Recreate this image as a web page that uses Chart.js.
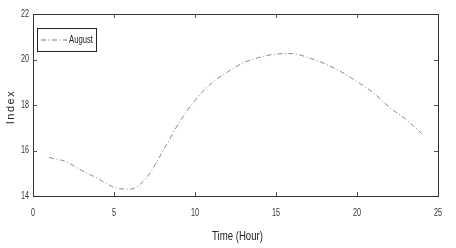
<!DOCTYPE html>
<html>
<head>
<meta charset="utf-8">
<script src="https://cdn.jsdelivr.net/npm/chart.js@4/dist/chart.umd.min.js"></script>
<style>
  html, body { margin: 0; padding: 0; background: #fff; }
  #wrap { width: 456px; height: 248px; }
</style>
</head>
<body>
<div id="wrap"><canvas id="c" width="456" height="248"></canvas></div>
<script>
const hours = [1,2,3,4,5,6,7,8,9,10,11,12,13,14,15,16,17,18,19,20,21,22,23,24];
const august = [15.69,15.52,15.13,14.77,14.38,14.3,14.8,15.95,17.2,18.2,18.95,19.45,19.86,20.1,20.24,20.26,20.08,19.82,19.47,19.03,18.54,17.9,17.38,16.74];
const xTickValues = [0,5,10,15,20,25];
const yTickValues = [14,16,18,20,22];
const seriesName = 'August';
const xTitle = 'Time (Hour)';
const yTitle = 'Index';

const FONT = "'Liberation Sans', Arial, sans-serif";
const DASH = [5,2.5,1,2.5];

function narrowText(ctx, text, x, y, sx, align) {
  ctx.save();
  ctx.translate(x, y);
  ctx.scale(sx, 1);
  ctx.textAlign = align;
  ctx.fillText(text, 0, 0);
  ctx.restore();
}

const framePlugin = {
  id: 'frame',
  afterDraw(chart) {
    const ctx = chart.ctx;
    const a = chart.chartArea;
    const xs = chart.scales.x, ys = chart.scales.y;
    ctx.save();
    ctx.strokeStyle = '#333';
    ctx.lineWidth = 1;
    ctx.strokeRect(Math.round(a.left)+0.5, Math.round(a.top)+0.5, Math.round(a.right-a.left), Math.round(a.bottom-a.top));
    ctx.strokeStyle = '#555';
    const tl = 4;
    xs.ticks.forEach(t => {
      const v = t.value;
      if (v === xs.min || v === xs.max) return;
      const px = Math.round(xs.getPixelForValue(v)) + 0.5;
      ctx.beginPath(); ctx.moveTo(px, a.bottom); ctx.lineTo(px, a.bottom - tl); ctx.stroke();
      ctx.beginPath(); ctx.moveTo(px, a.top); ctx.lineTo(px, a.top + tl); ctx.stroke();
    });
    ys.ticks.forEach(t => {
      const v = t.value;
      if (v === ys.min || v === ys.max) return;
      const py = Math.round(ys.getPixelForValue(v)) + 0.5;
      ctx.beginPath(); ctx.moveTo(a.left, py); ctx.lineTo(a.left + tl, py); ctx.stroke();
      ctx.beginPath(); ctx.moveTo(a.right, py); ctx.lineTo(a.right - tl, py); ctx.stroke();
    });
    // tick labels (narrow font), from the library's scales
    ctx.fillStyle = '#333';
    ctx.font = "10px " + FONT;
    ctx.textBaseline = 'middle';
    xs.ticks.forEach(t => {
      narrowText(ctx, String(t.value), xs.getPixelForValue(t.value), 213, 0.72, 'center');
    });
    ys.ticks.forEach(t => {
      narrowText(ctx, String(t.value), 29, ys.getPixelForValue(t.value), 0.72, 'right');
    });
    // axis titles
    ctx.fillStyle = '#222';
    ctx.font = "12px " + FONT;
    narrowText(ctx, xTitle, (a.left + a.right) / 2 + 2, 237, 0.8, 'center');
    ctx.save();
    ctx.translate(11, (a.top + a.bottom) / 2 + 2);
    ctx.rotate(-Math.PI / 2);
    ctx.font = "11px " + FONT;
    ctx.textAlign = 'center';
    if ('letterSpacing' in ctx) ctx.letterSpacing = '1.5px';
    ctx.fillText(yTitle, 0, 0);
    ctx.restore();
    // legend
    const lx = 37, ly = 28, lw = 59, lh = 23;
    ctx.strokeStyle = '#222';
    ctx.lineWidth = 1;
    ctx.strokeRect(lx + 0.5, ly + 0.5, lw, lh);
    ctx.strokeStyle = '#777';
    ctx.setLineDash(DASH);
    ctx.beginPath(); ctx.moveTo(lx + 4, ly + 12); ctx.lineTo(lx + 30, ly + 12); ctx.stroke();
    ctx.setLineDash([]);
    ctx.fillStyle = '#222';
    ctx.font = "11px " + FONT;
    narrowText(ctx, seriesName, lx + 32, ly + 12, 0.7, 'left');
    ctx.restore();
  }
};

new Chart(document.getElementById('c'), {
  type: 'line',
  data: {
    datasets: [{
      label: seriesName,
      data: hours.map((h, i) => ({x: h, y: august[i]})),
      borderColor: '#888',
      borderWidth: 1,
      borderDash: DASH,
      pointRadius: 0,
      cubicInterpolationMode: 'monotone',
      fill: false
    }]
  },
  options: {
    responsive: false,
    animation: false,
    layout: { padding: { top: 14, right: 18, left: 0, bottom: 0 } },
    plugins: { legend: { display: false }, tooltip: { enabled: false } },
    scales: {
      x: {
        type: 'linear', min: 0, max: 25,
        afterBuildTicks(s) { s.ticks = xTickValues.map(v => ({value: v})); },
        afterFit(s) { s.height = 52; },
        grid: { drawOnChartArea: false, drawTicks: false },
        border: { display: true, color: '#333' },
        ticks: { display: false }
      },
      y: {
        type: 'linear', min: 14, max: 22,
        afterBuildTicks(s) { s.ticks = yTickValues.map(v => ({value: v})); },
        afterFit(s) { s.width = 33; },
        grid: { drawOnChartArea: false, drawTicks: false },
        border: { display: true, color: '#333' },
        ticks: { display: false }
      }
    }
  },
  plugins: [framePlugin]
});
</script>
</body>
</html>
